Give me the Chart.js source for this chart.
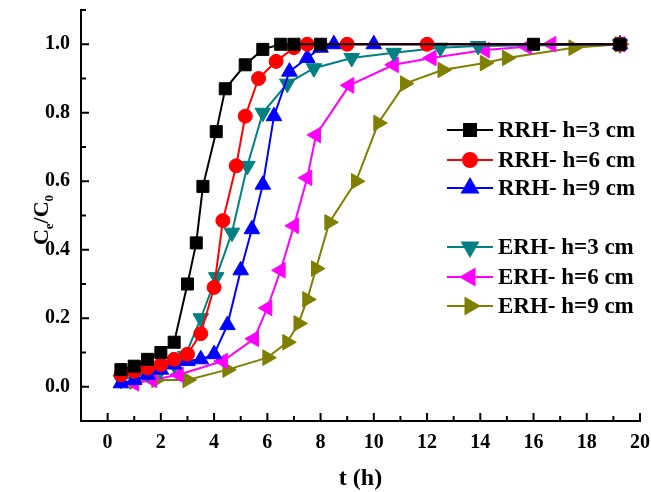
<!DOCTYPE html>
<html>
<head>
<meta charset="utf-8">
<script src="https://cdn.jsdelivr.net/npm/chart.js@4.4.1/dist/chart.umd.min.js"></script>
<style>
  html, body { margin: 0; padding: 0; background: #fff; }
</style>
</head>
<body>
<canvas id="breakthrough" width="651" height="492"></canvas>
<script>
// breakthrough curves, t in hours, Ce/C0
var tRRH3 = [0.5, 1, 1.5, 2, 2.5, 3, 3.33, 3.58, 4.08, 4.42, 5.17, 5.83, 6.5, 7, 8, 16, 19.25];
var cRRH3 = [0.05, 0.06, 0.08, 0.10, 0.13, 0.30, 0.42, 0.585, 0.745, 0.87, 0.94, 0.985, 1.0, 1.0, 1.0, 1.0, 1.0];

var tRRH6 = [0.5, 1, 1.5, 2, 2.5, 3, 3.5, 4, 4.33, 4.83, 5.17, 5.67, 6.33, 7, 7.5, 9, 12, 19.25];
var cRRH6 = [0.035, 0.045, 0.055, 0.065, 0.08, 0.095, 0.155, 0.29, 0.485, 0.645, 0.79, 0.9, 0.95, 0.99, 1.0, 1.0, 1.0, 1.0];

var tRRH9 = [0.5, 1, 1.5, 2, 2.5, 3, 3.5, 4, 4.5, 5, 5.42, 5.83, 6.25, 6.83, 7.5, 8, 8.5, 10, 19.25];
var cRRH9 = [0.01, 0.02, 0.035, 0.05, 0.065, 0.075, 0.08, 0.095, 0.18, 0.34, 0.46, 0.59, 0.79, 0.92, 0.96, 0.99, 1.0, 1.0, 1.0];

var tERH3 = [0.5, 1, 1.5, 2, 2.5, 2.92, 3.5, 4.08, 4.67, 5.25, 5.83, 6.75, 7.75, 9.17, 10.75, 12.5, 13.92, 19.25];
var cERH3 = [0.02, 0.03, 0.04, 0.05, 0.065, 0.09, 0.2, 0.32, 0.45, 0.645, 0.8, 0.885, 0.93, 0.96, 0.975, 0.99, 0.995, 1.0];

var tERH6 = [1, 1.67, 2.67, 4.33, 5.5, 6, 6.5, 7, 7.5, 7.83, 9.08, 10.75, 12.17, 14.17, 15.75, 16.67, 19.25];
var cERH6 = [0.01, 0.02, 0.035, 0.075, 0.14, 0.23, 0.34, 0.47, 0.61, 0.735, 0.88, 0.94, 0.96, 0.983, 0.993, 1.0, 1.0];

var tERH9 = [1, 1.83, 3, 4.5, 6, 6.75, 7.17, 7.5, 7.83, 8.33, 9.33, 10.17, 11.17, 12.58, 14.17, 15, 17.5, 19.25];
var cERH9 = [0.015, 0.02, 0.02, 0.05, 0.085, 0.13, 0.185, 0.255, 0.345, 0.48, 0.6, 0.77, 0.885, 0.925, 0.945, 0.96, 0.99, 1.0];

var xTickValues = [0, 2, 4, 6, 8, 10, 12, 14, 16, 18, 20];
var yTickValues = [0, 0.2, 0.4, 0.6, 0.8, 1.0];

var serif = '"Liberation Serif", "Times New Roman", serif';

function pts(t, c) {
    return t.map(function (v, i) { return { x: v, y: c[i] }; });
}

function series(label, t, c, color, style, rot, r) {
    return {
        label: label,
        data: pts(t, c),
        borderColor: color,
        backgroundColor: color,
        borderWidth: 2,
        pointStyle: style,
        pointRotation: rot,
        pointRadius: r,
        pointBorderWidth: 1,
        pointBorderColor: color,
        pointBackgroundColor: color,
        tension: 0
    };
}

// inward ticks, y title with subscripts, x title and the legend
var decorations = {
    id: 'decorations',
    afterDraw: function (chart) {
        var ctx = chart.ctx;
        var xs = chart.scales.x, ys = chart.scales.y;
        var area = chart.chartArea;
        ctx.save();
        ctx.strokeStyle = '#000';
        ctx.lineWidth = 2;
        for (var i = 0; i <= 20; i++) {
            var px = xs.getPixelForValue(i);
            var len = i % 2 === 0 ? 8 : 5;
            ctx.beginPath();
            ctx.moveTo(px, area.bottom);
            ctx.lineTo(px, area.bottom - len);
            ctx.stroke();
        }
        for (var j = 0; j <= 11; j++) {
            var py = ys.getPixelForValue(j / 10);
            var l2 = j % 2 === 0 ? 8 : 5;
            ctx.beginPath();
            ctx.moveTo(area.left, py);
            ctx.lineTo(area.left + l2, py);
            ctx.stroke();
        }

        // y title: Ce/C0
        ctx.fillStyle = '#000';
        ctx.textBaseline = 'alphabetic';
        ctx.textAlign = 'left';
        var big = 'bold 22px ' + serif, small = 'bold 13px ' + serif;
        var parts = [['C', big, 0], ['e', small, 5], ['/C', big, 0], ['0', small, 5]];
        var w = 0;
        parts.forEach(function (p) { ctx.font = p[1]; w += ctx.measureText(p[0]).width; });
        ctx.translate(48, 220);
        ctx.rotate(-Math.PI / 2);
        var cx = -w / 2;
        parts.forEach(function (p) {
            ctx.font = p[1];
            ctx.fillText(p[0], cx, p[2]);
            cx += ctx.measureText(p[0]).width;
        });
        ctx.setTransform(1, 0, 0, 1, 0, 0);

        // x title
        ctx.font = 'bold 24px ' + serif;
        ctx.textAlign = 'center';
        ctx.fillText('t (h)', (area.left + area.right) / 2, 485);

        // legend
        var rows = [130, 160, 188, 247, 277, 306];
        ctx.textAlign = 'left';
        ctx.textBaseline = 'middle';
        chart.data.datasets.forEach(function (ds, k) {
            var y = rows[k];
            ctx.strokeStyle = ds.borderColor;
            ctx.lineWidth = 2;
            ctx.beginPath();
            ctx.moveTo(447, y);
            ctx.lineTo(493, y);
            ctx.stroke();
            ctx.fillStyle = ds.backgroundColor;
            Chart.helpers.drawPoint(ctx, {
                pointStyle: ds.pointStyle,
                rotation: ds.pointRotation,
                radius: ds.pointRadius,
                borderWidth: 1
            }, 470, y);
            ctx.fillStyle = '#000';
            ctx.font = 'bold 23px ' + serif;
            ctx.fillText(ds.label, 498, y + 1);
        });
        ctx.restore();
    }
};

var ctx = document.getElementById('breakthrough').getContext('2d');
var chart = new Chart(ctx, {
    type: 'line',
    data: {
        datasets: [
            series('RRH- h=3 cm', tRRH3, cRRH3, '#000000', 'rect', 0, 8.5),
            series('RRH- h=6 cm', tRRH6, cRRH6, '#ff0000', 'circle', 0, 7),
            series('RRH- h=9 cm', tRRH9, cRRH9, '#0000ff', 'triangle', 0, 9),
            series('ERH- h=3 cm', tERH3, cERH3, '#008080', 'triangle', 180, 9),
            series('ERH- h=6 cm', tERH6, cERH6, '#ff00ff', 'triangle', 270, 9),
            series('ERH- h=9 cm', tERH9, cERH9, '#808000', 'triangle', 90, 9)
        ]
    },
    options: {
        responsive: false,
        animation: false,
        clip: false,
        layout: { padding: { top: 10, right: 11, left: 0, bottom: 0 } },
        plugins: {
            legend: { display: false },
            tooltip: { enabled: false }
        },
        scales: {
            x: {
                type: 'linear',
                min: -1,
                max: 20,
                afterBuildTicks: function (s) { s.ticks = xTickValues.map(function (v) { return { value: v }; }); },
                afterFit: function (s) { s.height = 71; s.paddingLeft = 0; s.paddingRight = 0; },
                grid: { drawOnChartArea: false, drawTicks: false },
                border: { color: '#000', width: 2 },
                ticks: {
                    color: '#000',
                    padding: 10,
                    maxRotation: 0,
                    font: { family: serif, size: 20, weight: 'bold' }
                }
            },
            y: {
                min: -0.1,
                max: 1.1,
                afterBuildTicks: function (s) { s.ticks = yTickValues.map(function (v) { return { value: v }; }); },
                afterFit: function (s) { s.width = 81; s.paddingTop = 0; s.paddingBottom = 0; },
                grid: { drawOnChartArea: false, drawTicks: false },
                border: { color: '#000', width: 2 },
                ticks: {
                    color: '#000',
                    padding: 11,
                    font: { family: serif, size: 20, weight: 'bold' },
                    callback: function (v) { return v.toFixed(1); }
                }
            }
        }
    },
    plugins: [decorations]
});
</script>
</body>
</html>
